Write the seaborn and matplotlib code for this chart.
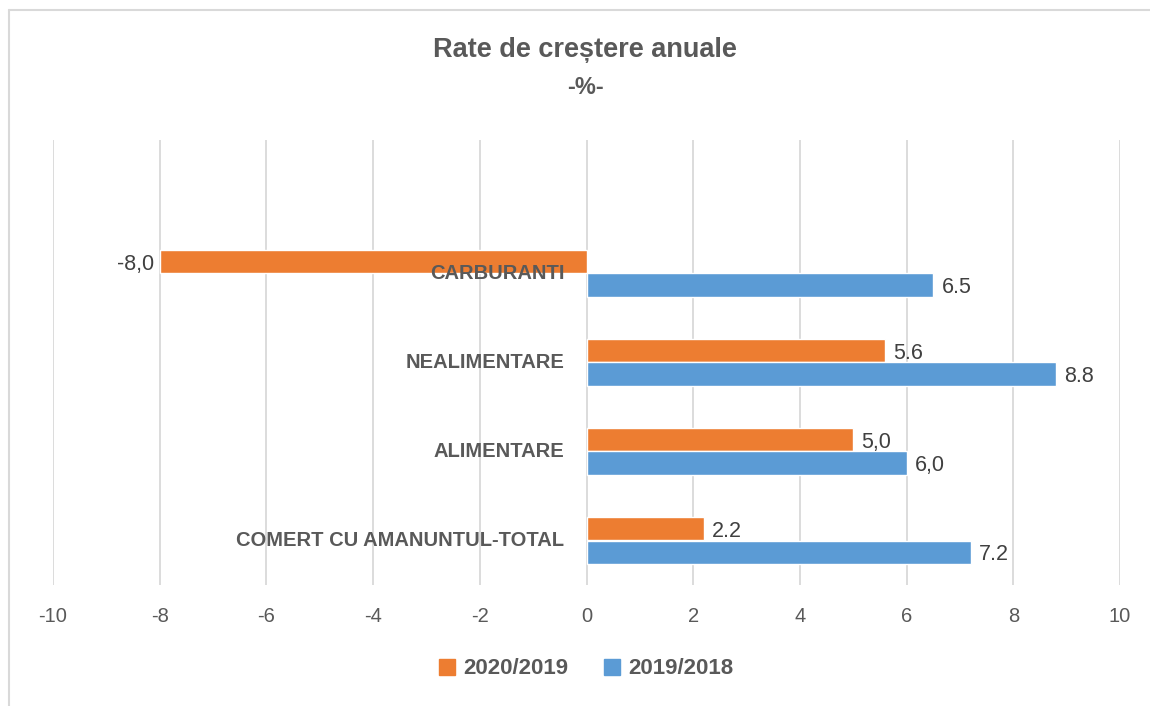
import matplotlib
matplotlib.use("Agg")
import matplotlib.pyplot as plt
import matplotlib.lines as mlines
import matplotlib.patches as mpatches
import pandas as pd
import seaborn as sns

# data (top to bottom)
categories = ["CARBURANTI", "NEALIMENTARE", "ALIMENTARE", "COMERT CU AMANUNTUL-TOTAL"]
series_names = ["2020/2019", "2019/2018"]
values_2020_2019 = [-8.0, 5.6, 5.0, 2.2]
values_2019_2018 = [6.5, 8.8, 6.0, 7.2]
labels_2020_2019 = ["-8,0", "5.6", "5,0", "2.2"]
labels_2019_2018 = ["6.5", "8.8", "6,0", "7.2"]
x_ticks = [-10, -8, -6, -4, -2, 0, 2, 4, 6, 8, 10]

colors = {"2020/2019": "#ED7D31", "2019/2018": "#5B9BD5"}
grey = "#595959"

df = pd.DataFrame({
    "categorie": categories * 2,
    "serie": [series_names[0]] * 4 + [series_names[1]] * 4,
    "valoare": values_2020_2019 + values_2019_2018,
})

sns.set_theme(style="white")
plt.rcParams["font.family"] = ["Liberation Sans", "DejaVu Sans"]

fig = plt.figure(figsize=(11.5, 7.06), dpi=100)
ax = fig.add_axes([53 / 1150, 1 - 585 / 706, 1067 / 1150, 445 / 706])

sns.barplot(data=df, x="valoare", y="categorie", hue="serie", order=categories,
            hue_order=series_names, palette=colors, orient="h", width=0.52,
            saturation=1, ax=ax, legend=False)

ax.set_xlim(-10, 10)
ax.set_ylim(3.5, -1.5)
ax.set_xticks(x_ticks)
ax.set_xticklabels([str(t) for t in x_ticks], fontsize=14.5, color=grey)
ax.tick_params(axis="x", length=0, pad=16)
ax.set_yticks([])
ax.set_xlabel("")
ax.set_ylabel("")
ax.grid(axis="x", color="#D9D9D9", linewidth=1.3)
ax.set_axisbelow(True)
for s in ax.spines.values():
    s.set_visible(False)

# data labels
for container, labels in zip(ax.containers, [labels_2020_2019, labels_2019_2018]):
    for bar, txt in zip(container, labels):
        w = bar.get_width()
        yc = bar.get_y() + bar.get_height() / 2
        if w < 0:
            ax.annotate(txt, (w, yc), xytext=(-4, -2), textcoords="offset points",
                        ha="right", va="center", fontsize=15.5, color="#404040")
        else:
            ax.annotate(txt, (w, yc), xytext=(6, -2), textcoords="offset points",
                        ha="left", va="center", fontsize=15.5, color="#404040")

# category labels next to the zero line
for i, cat in enumerate(categories):
    ax.annotate(cat, (0, i), xytext=(-16, 0), textcoords="offset points",
                ha="right", va="center", fontsize=14.5, fontweight="bold", color=grey)

fig.text(0.509, 1 - 50 / 706, "Rate de creștere anuale", ha="center", va="center",
         fontsize=19.5, fontweight="bold", color=grey)
fig.text(0.509, 1 - 88 / 706, "-%-", ha="center", va="center",
         fontsize=17, fontweight="bold", color=grey)

handles = [mpatches.Patch(color=colors[s], label=s) for s in series_names]
fig.legend(handles=handles, loc="center", bbox_to_anchor=(0.51, 1 - 669 / 706),
           ncol=2, frameon=False, handlelength=0.7, handleheight=0.7,
           handletextpad=0.4, columnspacing=1.6,
           prop={"size": 16, "weight": "bold"}, labelcolor=grey)

# chart border (only top and left visible in the reference)
fig.add_artist(mlines.Line2D([9 / 1150, 9 / 1150], [0, 1 - 10 / 706],
                             transform=fig.transFigure, color="#D9D9D9", linewidth=1.5))
fig.add_artist(mlines.Line2D([9 / 1150, 1], [1 - 10 / 706, 1 - 10 / 706],
                             transform=fig.transFigure, color="#D9D9D9", linewidth=1.5))

fig.savefig("out.png", dpi=100, facecolor="white")
